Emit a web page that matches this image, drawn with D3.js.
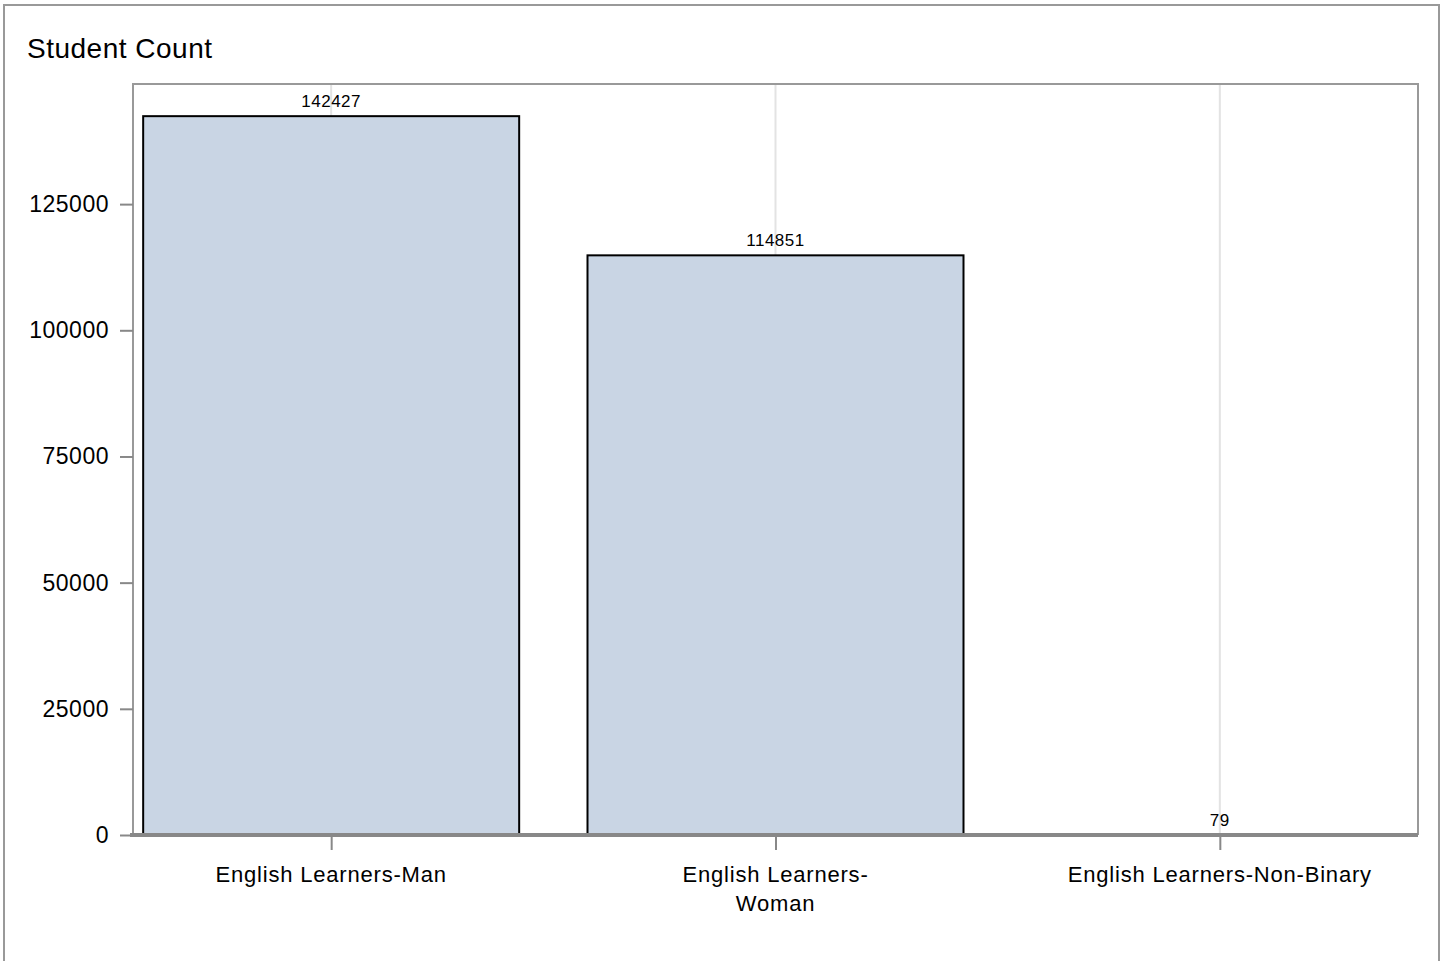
<!DOCTYPE html>
<html>
<head>
<meta charset="utf-8">
<script src="https://cdn.jsdelivr.net/npm/d3@7"></script>
<style>
  html, body { margin: 0; padding: 0; background: #fff; }
  svg { display: block; font-family: Arial, "Liberation Sans", sans-serif; }
</style>
</head>
<body>
<svg id="chart" width="1442" height="961"></svg>
<script>
const categories = ["English Learners-Man", "English Learners-Woman", "English Learners-Non-Binary"];
const categoryLines = [["English Learners-Man"], ["English Learners-", "Woman"], ["English Learners-Non-Binary"]];
const values = [142427, 114851, 79];
const yTicks = [0, 25000, 50000, 75000, 100000, 125000];
const title = "Student Count";

const svg = d3.select("#chart");

// outer border
svg.append("rect")
  .attr("x", 4).attr("y", 5).attr("width", 1435).attr("height", 970)
  .attr("fill", "none").attr("stroke", "#999").attr("stroke-width", 2);

svg.append("text")
  .attr("x", 27).attr("y", 58)
  .attr("font-size", 28).attr("letter-spacing", 0.5).attr("fill", "#000")
  .text(title);

const plot = { left: 133, right: 1418, top: 84, bottom: 835 };

const y = d3.scaleLinear().domain([0, 148800]).range([plot.bottom, plot.top]);
const x = d3.scalePoint().domain(categories).range([plot.left, plot.right]).padding(0.446);
const barW = 376;

// vertical gridlines
svg.append("g").selectAll("line").data(categories).join("line")
  .attr("x1", d => x(d)).attr("x2", d => x(d))
  .attr("y1", plot.top).attr("y2", plot.bottom)
  .attr("stroke", "#e3e3e3").attr("stroke-width", 2);

// bars
svg.append("g").selectAll("rect").data(values).join("rect")
  .attr("x", (d, i) => x(categories[i]) - barW / 2)
  .attr("y", d => y(d))
  .attr("width", barW)
  .attr("height", d => y(0) - y(d))
  .attr("fill", "#c9d5e4")
  .attr("stroke", "#000")
  .attr("stroke-width", 2);

// value labels
svg.append("g").selectAll("text").data(values).join("text")
  .attr("x", (d, i) => x(categories[i]))
  .attr("y", d => y(d) - 9)
  .attr("text-anchor", "middle")
  .attr("font-size", 17).attr("letter-spacing", 0.5).attr("fill", "#000")
  .text(d => d);

// plot frame (top, right, left)
svg.append("path")
  .attr("d", `M${plot.left},${plot.bottom} V${plot.top} H${plot.right} V${plot.bottom}`)
  .attr("fill", "none").attr("stroke", "#999").attr("stroke-width", 2);

// y axis
const yAxis = d3.axisLeft(y).tickValues(yTicks).tickSize(13).tickPadding(11).tickFormat(d3.format("d"));
const gy = svg.append("g").attr("transform", `translate(${plot.left},0)`).call(yAxis);
gy.select(".domain").remove();
gy.selectAll(".tick line").attr("stroke", "#888").attr("stroke-width", 2);
gy.selectAll(".tick text").attr("font-size", 23).attr("letter-spacing", 0.5).attr("fill", "#000")
  .attr("font-family", "Arial, 'Liberation Sans', sans-serif");

// x axis
const xAxis = d3.axisBottom(x).tickSize(15).tickFormat("");
const gx = svg.append("g").attr("transform", `translate(0,${plot.bottom})`).call(xAxis);
gx.select(".domain").remove();
gx.selectAll(".tick line").attr("stroke", "#888").attr("stroke-width", 2);

// x axis line
svg.append("line")
  .attr("x1", plot.left - 3).attr("x2", plot.right)
  .attr("y1", plot.bottom).attr("y2", plot.bottom)
  .attr("stroke", "#888").attr("stroke-width", 4);

// x labels
const xl = svg.append("g").selectAll("text").data(categories).join("text")
  .attr("x", d => x(d))
  .attr("y", plot.bottom + 47)
  .attr("text-anchor", "middle")
  .attr("font-size", 22).attr("letter-spacing", 0.8).attr("fill", "#000");
xl.each(function(d, i) {
  d3.select(this).selectAll("tspan").data(categoryLines[i]).join("tspan")
    .attr("x", x(d)).attr("dy", (t, j) => j === 0 ? 0 : 29)
    .text(t => t);
});
</script>
</body>
</html>
